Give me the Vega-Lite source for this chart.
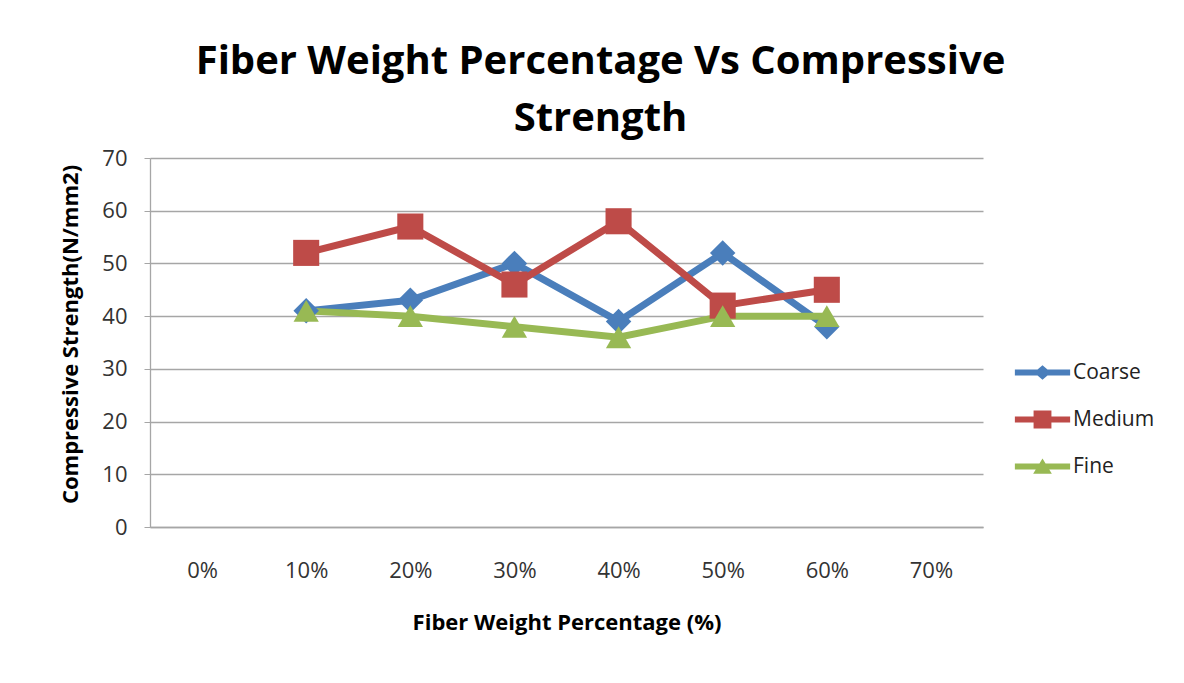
{
  "$schema": "https://vega.github.io/schema/vega-lite/v6.json",
  "autosize": {"type": "none"},
  "width": 833,
  "height": 369,
  "padding": {"left": 150, "top": 158, "right": 201, "bottom": 156},
  "background": "white",
  "title": {
    "text": ["Fiber Weight Percentage Vs Compressive", "Strength"],
    "font": "Open Sans",
    "fontWeight": "bold",
    "fontSize": 40,
    "lineHeight": 57,
    "color": "#000000",
    "anchor": "middle",
    "dx": 34,
    "offset": 8
  },
  "config": {
    "view": {"stroke": null},
    "font": "Open Sans",
    "legend": {
      "orient": "none",
      "legendX": 882,
      "legendY": 204,
      "labelFont": "Open Sans",
      "labelFontSize": 21,
      "labelColor": "#222222",
      "labelOffset": 20,
      "rowPadding": 25,
      "symbolSize": 289,
      "symbolStrokeWidth": 0,
      "symbolOpacity": 1
    }
  },
  "data": {
    "values": [
      {"pct": "10%", "type": "Coarse", "value": 41},
      {"pct": "20%", "type": "Coarse", "value": 43},
      {"pct": "30%", "type": "Coarse", "value": 50},
      {"pct": "40%", "type": "Coarse", "value": 39},
      {"pct": "50%", "type": "Coarse", "value": 52},
      {"pct": "60%", "type": "Coarse", "value": 38},
      {"pct": "10%", "type": "Medium", "value": 52},
      {"pct": "20%", "type": "Medium", "value": 57},
      {"pct": "30%", "type": "Medium", "value": 46},
      {"pct": "40%", "type": "Medium", "value": 58},
      {"pct": "50%", "type": "Medium", "value": 42},
      {"pct": "60%", "type": "Medium", "value": 45},
      {"pct": "10%", "type": "Fine", "value": 41},
      {"pct": "20%", "type": "Fine", "value": 40},
      {"pct": "30%", "type": "Fine", "value": 38},
      {"pct": "40%", "type": "Fine", "value": 36},
      {"pct": "50%", "type": "Fine", "value": 40},
      {"pct": "60%", "type": "Fine", "value": 40}
    ]
  },
  "encoding": {
    "x": {
      "field": "pct",
      "type": "ordinal",
      "sort": null,
      "scale": {"type": "point", "padding": 0.5, "domain": ["0%", "10%", "20%", "30%", "40%", "50%", "60%", "70%"]},
      "axis": {
        "title": "Fiber Weight Percentage (%)",
        "titleFont": "Open Sans",
        "titleFontWeight": "bold",
        "titleFontSize": 22,
        "titleColor": "#000000",
        "titlePadding": 31,
        "labelFont": "Open Sans",
        "labelFontSize": 22,
        "labelColor": "#333333",
        "labelAngle": 0,
        "labelPadding": 33,
        "ticks": false,
        "grid": false,
        "domainColor": "#A6A6A6",
        "domainWidth": 1.3
      }
    },
    "y": {
      "field": "value",
      "type": "quantitative",
      "scale": {"domain": [0, 70], "nice": false},
      "axis": {
        "title": "Compressive Strength(N/mm2)",
        "titleFont": "Open Sans",
        "titleFontWeight": "bold",
        "titleFontSize": 22,
        "titleColor": "#000000",
        "titlePadding": 19,
        "titleY": 176,
        "values": [0, 10, 20, 30, 40, 50, 60, 70],
        "labelFont": "Open Sans",
        "labelFontSize": 22,
        "labelColor": "#333333",
        "labelPadding": 17,
        "tickSize": 6,
        "tickColor": "#A6A6A6",
        "domainColor": "#A6A6A6",
        "domainWidth": 1.3,
        "gridColor": "#A6A6A6",
        "gridWidth": 1.3
      }
    },
    "color": {
      "field": "type",
      "type": "nominal",
      "scale": {"domain": ["Coarse", "Medium", "Fine"], "range": ["#4A7EBB", "#BE4B48", "#98B954"]},
      "legend": {"title": null}
    }
  },
  "layer": [
    {
      "mark": {"type": "line", "strokeWidth": 7, "strokeJoin": "miter"}
    },
    {
      "transform": [{"filter": "datum.type === 'Coarse'"}],
      "mark": {"type": "point", "filled": true, "opacity": 1, "size": 650, "shape": "diamond"}
    },
    {
      "transform": [{"filter": "datum.type === 'Medium'"}],
      "mark": {"type": "point", "filled": true, "opacity": 1, "size": 680, "shape": "square"}
    },
    {
      "transform": [{"filter": "datum.type === 'Fine'"}],
      "mark": {"type": "point", "filled": true, "opacity": 1, "size": 640, "shape": "triangle-up"}
    },
    {
      "transform": [{"filter": "false"}],
      "mark": {"type": "point", "filled": true, "opacity": 1},
      "encoding": {
        "shape": {
          "field": "type",
          "type": "nominal",
          "scale": {
            "domain": ["Coarse", "Medium", "Fine"],
            "range": [
              "M-3.25,-0.35H3.25V0.35H-3.25Z M0,-0.85L1,0L0,0.85L-1,0Z",
              "M-3.25,-0.35H3.25V0.35H-3.25Z M-1.05,-1.05H1.05V1.05H-1.05Z",
              "M-3.25,-0.35H3.25V0.35H-3.25Z M0,-0.95L1.1,0.85H-1.1Z"
            ]
          },
          "legend": {"title": null}
        }
      }
    }
  ]
}
